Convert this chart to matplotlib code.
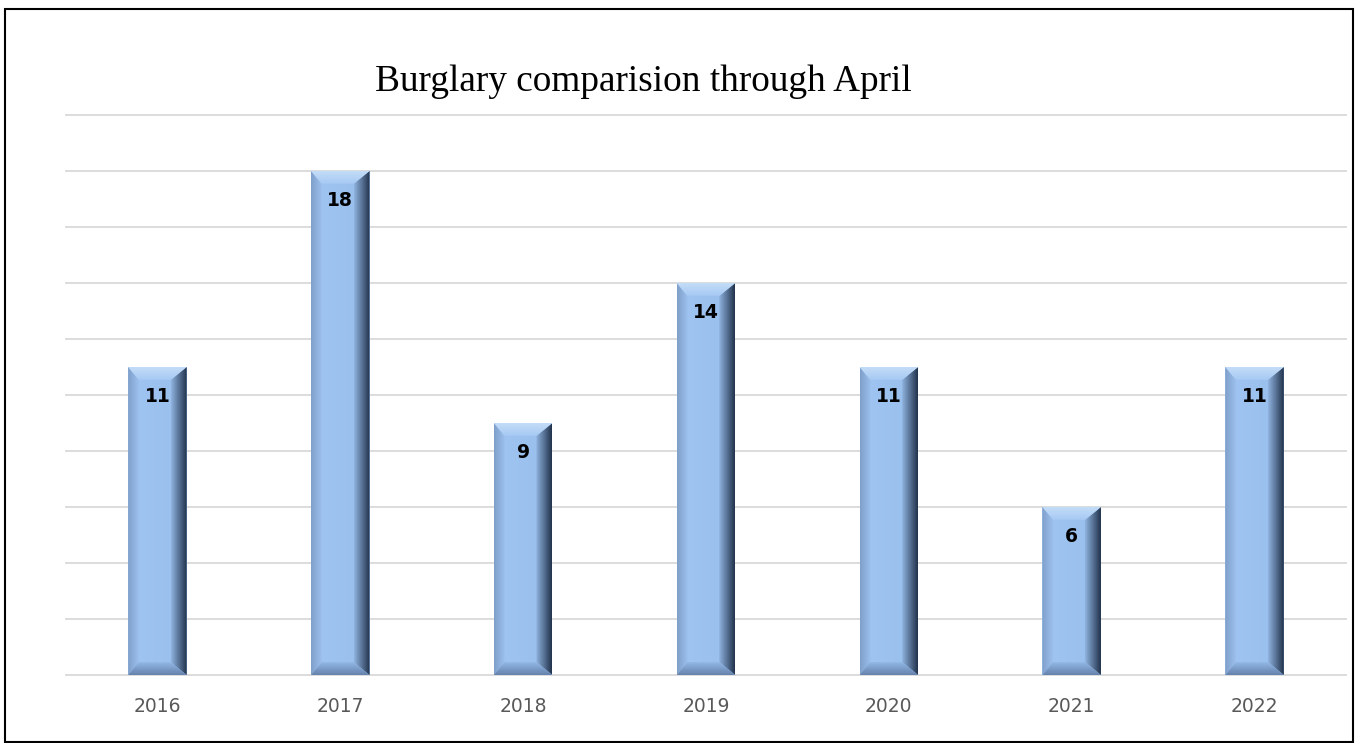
import numpy as np
import matplotlib.pyplot as plt
from matplotlib.patches import Polygon, Rectangle
from matplotlib.colors import to_rgb

years = ['2016', '2017', '2018', '2019', '2020', '2021', '2022']
burglaries = [11, 18, 9, 14, 11, 6, 11]

fig = plt.figure(figsize=(13.58, 7.43), dpi=100)
ax = fig.add_axes([66 / 1358, 68 / 743, 1280 / 1358, 560 / 743])

BAR_W = 0.32
BX = 0.058   # bevel width in x data units
BY = 0.46    # bevel height in y data units


def gradient(ax, poly, c0, c1, horizontal, extent):
    c0 = np.array(to_rgb(c0))
    c1 = np.array(to_rgb(c1))
    t = np.linspace(0, 1, 64)
    img = c0[None, :] + (c1 - c0)[None, :] * t[:, None]
    if horizontal:
        img = img[None, :, :]
    else:
        img = img[:, None, :]
    im = ax.imshow(img, extent=extent, origin='lower', aspect='auto',
                   interpolation='bilinear', zorder=3)
    ax.add_patch(poly)
    poly.set_visible(False)
    im.set_clip_path(poly)


for i, v in enumerate(burglaries):
    x0, x1 = i - BAR_W / 2, i + BAR_W / 2
    # main face
    face = Polygon([(x0, 0), (x1, 0), (x1, v), (x0, v)], closed=True)
    gradient(ax, face, '#A0C5F2', '#98BEEC', True, (x0, x1, 0, v))
    # left bevel
    left = Polygon([(x0, 0), (x0 + BX, BY), (x0 + BX, v - BY), (x0, v)], closed=True)
    gradient(ax, left, '#7F9FC9', '#9CC0EE', True, (x0, x0 + BX, 0, v))
    # right bevel (dark)
    right = Polygon([(x1, 0), (x1 - BX * 1.5, BY), (x1 - BX * 1.5, v - BY), (x1, v)], closed=True)
    gradient(ax, right, '#8FB3DF', '#22334D', True, (x1 - BX * 1.5, x1, 0, v))
    # top bevel (light)
    top = Polygon([(x0, v), (x1, v), (x1 - BX * 1.5, v - BY), (x0 + BX, v - BY)], closed=True)
    gradient(ax, top, '#A6C9F3', '#C4DCF7', False, (x0, x1, v - BY, v))
    # bottom bevel (dark)
    bot = Polygon([(x0, 0), (x1, 0), (x1 - BX * 1.5, BY), (x0 + BX, BY)], closed=True)
    gradient(ax, bot, '#6482AC', '#94B8E6', False, (x0, x1, 0, BY))
    ax.text(i, v - 1.05, str(v), ha='center', va='center', fontsize=13.5,
            fontweight='bold', color='black', zorder=5)

ax.set_xlim(-0.5, len(years) - 0.5)
ax.set_ylim(0, 20)
ax.set_yticks(np.arange(0, 21, 2))
ax.set_xticks(range(len(years)))
ax.set_xticklabels(years, fontsize=13.5, color='#595959')
ax.tick_params(axis='y', left=False, labelleft=False)
ax.tick_params(axis='x', length=0, pad=16)
ax.grid(axis='y', color='#D9D9D9', linewidth=1.3, zorder=0)
for gl in ax.get_ygridlines():
    gl.set_clip_on(False)
ax.set_axisbelow(True)
for s in ax.spines.values():
    s.set_visible(False)

fig.text(643 / 1358, 1 - 82 / 743, 'Burglary comparision through April',
         ha='center', va='center', fontsize=26.8, family='Liberation Serif')

fig.patches.append(Rectangle((5 / 1358, 1 / 743), 1348 / 1358, 733 / 743,
                             transform=fig.transFigure, fill=False,
                             edgecolor='black', linewidth=1.5))

fig.savefig('out.png', dpi=100)
